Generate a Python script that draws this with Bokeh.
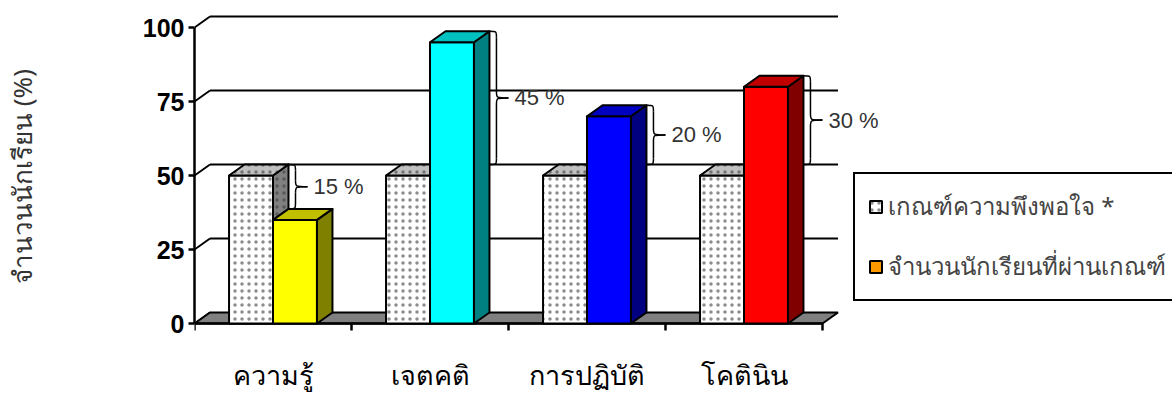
import numpy as np
from bokeh.plotting import figure
from bokeh.models import Range1d, FixedTicker, Legend, LegendItem, ColumnDataSource
from bokeh.embed import file_html
from bokeh.resources import INLINE
from bokeh.core.properties import value

# ---------------- data ----------------
categories = ["ความรู้", "เจตคติ", "การปฏิบัติ", "โคตินิน"]
criteria = [50, 50, 50, 50]
students = [35, 95, 70, 80]
front_colors = ["#FFFF00", "#00FFFF", "#0000FF", "#FF0000"]
side_colors = ["#808000", "#008080", "#000080", "#800000"]
top_colors = ["#C0C000", "#00C0C0", "#0000C0", "#C00000"]
y_ticks = [0, 25, 50, 75, 100]
series_names = ["เกณฑ์ความพึงพอใจ *", "จำนวนนักเรียนที่ผ่านเกณฑ์"]
series2_legend_color = "#FF9900"
y_label = "จำนวนนักเรียน (%)"

# ---------------- geometry (styles) ----------------
PX_X = 157.0   # px per category
PX_Y = 2.96    # px per percent
FRAME_W = 978
TOP_PX, BELOW_PX = 323, 29          # frame height above / below the value 0
FRAME_H = TOP_PX + BELOW_PX
DX = 15.5 / PX_X
DY = 11.0 / PX_Y
TICK = 7 / PX_Y
D0, D1 = 0.22, 0.50   # criteria bar within category
C0, C1 = 0.50, 0.78   # student bar within category
THAI = "Noto Sans"

n = len(categories)
p = figure(frame_width=FRAME_W, frame_height=FRAME_H,
           x_range=Range1d(0, FRAME_W / PX_X),
           y_range=Range1d(-BELOW_PX / PX_Y, TOP_PX / PX_Y),
           output_backend="svg", toolbar_location=None,
           min_border_left=194, min_border_right=0, min_border_top=0,
           min_border_bottom=396 - FRAME_H)
p.outline_line_color = None
p.grid.visible = False
p.background_fill_color = "white"

# back wall gridlines and depth diagonals
p.segment(x0=[DX] * (len(y_ticks) - 1), y0=[v + DY for v in y_ticks[1:]],
          x1=[n + DX] * (len(y_ticks) - 1), y1=[v + DY for v in y_ticks[1:]],
          line_color="black", line_width=2)
p.segment(x0=[0] * len(y_ticks), y0=y_ticks, x1=[DX] * len(y_ticks),
          y1=[v + DY for v in y_ticks], line_color="black", line_width=2)

# floor
p.patch(x=[0, n, n + DX, DX], y=[0, 0, DY, DY], fill_color="#808080",
        line_color="black", line_width=2)

# category axis line (value 0) and boundary ticks
bounds_x = list(range(n + 1))
p.segment(x0=[0], y0=[0], x1=[n], y1=[0], line_color="black", line_width=2.5)
p.segment(x0=bounds_x, y0=[0] * len(bounds_x), x1=bounds_x, y1=[-TICK] * len(bounds_x),
          line_color="black", line_width=2.5)

HATCH = dict(hatch_pattern="dot", hatch_color="#404040", hatch_scale=7,
             hatch_weight=1, hatch_alpha=0.6)


def bar3d(lefts, rights, tops, front, side, top, hatch=False):
    kw = HATCH if hatch else {}
    fr = p.quad(left=lefts, right=rights, bottom=[0] * len(tops), top=tops,
                fill_color=front, line_color="black", line_width=2, **kw)
    sx = [[r, r + DX, r + DX, r] for r in rights]
    sy = [[0, DY, t + DY, t] for t in tops]
    p.patches(xs=sx, ys=sy, fill_color=side, line_color="black", line_width=2,
              line_join="round", **kw)
    tx = [[l, l + DX, r + DX, r] for l, r in zip(lefts, rights)]
    ty = [[t, t + DY, t + DY, t] for t in tops]
    p.patches(xs=tx, ys=ty, fill_color=top, line_color="black", line_width=2,
              line_join="round", **kw)
    return fr


idx = list(range(n))
r_crit = bar3d([i + D0 for i in idx], [i + D1 for i in idx], criteria,
               "white", "#808080", "#C0C0C0", hatch=True)
bar3d([i + C0 for i in idx], [i + C1 for i in idx], students,
      front_colors, side_colors, top_colors)

# renderer (no visible mark) that supplies the legend swatch of series 2
nan = np.array([np.nan])
r_stud = p.quad(left=nan, right=nan, top=nan, bottom=nan, fill_color=series2_legend_color,
                line_color="black", line_width=2)

# braces with difference labels
hw, tw, rr = 7 / PX_X, 12 / PX_X, 6 / PX_Y
bz = dict(x0=[], y0=[], x1=[], y1=[], cx0=[], cy0=[], cx1=[], cy1=[])
sg = dict(x0=[], y0=[], x1=[], y1=[])
tx, ty, tt = [], [], []
for i, (c, s) in enumerate(zip(criteria, students)):
    hi, lo = max(c, s), min(c, s)
    xh = (i + D1 if c >= s else i + C1) + DX
    yt, yb = hi + DY, lo + DY
    ym = (yt + yb) / 2
    xs, xt = xh + hw, xh + hw + tw
    for (a, b, cc) in [((xh, yt), (xs, yt - rr), (xs, yt)),
                       ((xs, ym + rr), (xt, ym), (xs, ym)),
                       ((xt, ym), (xs, ym - rr), (xs, ym)),
                       ((xs, yb + rr), (xh, yb), (xs, yb))]:
        bz["x0"].append(a[0]); bz["y0"].append(a[1])
        bz["x1"].append(b[0]); bz["y1"].append(b[1])
        bz["cx0"].append(cc[0]); bz["cy0"].append(cc[1])
        bz["cx1"].append(cc[0]); bz["cy1"].append(cc[1])
    for (a, b) in [((xs, yt - rr), (xs, ym + rr)), ((xs, ym - rr), (xs, yb + rr))]:
        sg["x0"].append(a[0]); sg["y0"].append(a[1])
        sg["x1"].append(b[0]); sg["y1"].append(b[1])
    tx.append(xt + 6 / PX_X); ty.append(ym); tt.append(f"{hi - lo} %")
p.bezier(source=ColumnDataSource(bz), x0="x0", y0="y0", x1="x1", y1="y1",
         cx0="cx0", cy0="cy0", cx1="cx1", cy1="cy1", line_color="black", line_width=1.5)
p.segment(source=ColumnDataSource(sg), x0="x0", y0="y0", x1="x1", y1="y1",
          line_color="black", line_width=1.5)
p.text(x=tx, y=ty, text=tt, text_font=value("Liberation Sans"), text_font_size="22px",
       text_baseline="middle", text_align="left", text_color="#333333")

# y axis
ya = p.yaxis[0]
ya.ticker = FixedTicker(ticks=y_ticks)
ya.bounds = (y_ticks[0], y_ticks[-1])
ya.axis_line_width = 2.5
ya.major_tick_line_width = 2.5
ya.major_tick_out = 6
ya.major_tick_in = 0
ya.minor_tick_out = 0
ya.minor_tick_in = 0
ya.major_label_text_font = "Liberation Sans"
ya.major_label_text_font_style = "bold"
ya.major_label_text_font_size = "25px"
ya.major_label_text_color = "black"
ya.major_label_standoff = 4
ya.axis_label = y_label
ya.axis_label_text_font = THAI
ya.axis_label_text_font_style = "normal"
ya.axis_label_text_font_size = "26px"
ya.axis_label_text_color = "#333333"
ya.axis_label_standoff = 100

# x axis: only the category names (line and ticks are drawn at value 0 above)
xa = p.xaxis[0]
xa.ticker = FixedTicker(ticks=[i + 0.5 for i in idx], minor_ticks=[])
xa.major_label_overrides = {i + 0.5: categories[i] for i in idx}
xa.axis_line_color = None
xa.major_tick_line_color = None
xa.minor_tick_line_color = None
xa.major_tick_out = 0
xa.major_tick_in = 0
xa.major_label_text_font = THAI
xa.major_label_text_font_size = "27px"
xa.major_label_text_color = "black"
xa.major_label_standoff = 3

legend = Legend(items=[LegendItem(label=series_names[0], renderers=[r_crit]),
                       LegendItem(label=series_names[1], renderers=[r_stud])],
                location=(659, BELOW_PX + 22), border_line_color="black",
                border_line_width=2.5, border_line_alpha=1,
                background_fill_color="white", background_fill_alpha=1,
                label_text_font=THAI, label_text_font_size="24px",
                glyph_width=15, glyph_height=15, label_height=20, spacing=21,
                padding=13, margin=0, label_standoff=5)
p.add_layout(legend)

open("out.html", "w").write(file_html(p, INLINE))
